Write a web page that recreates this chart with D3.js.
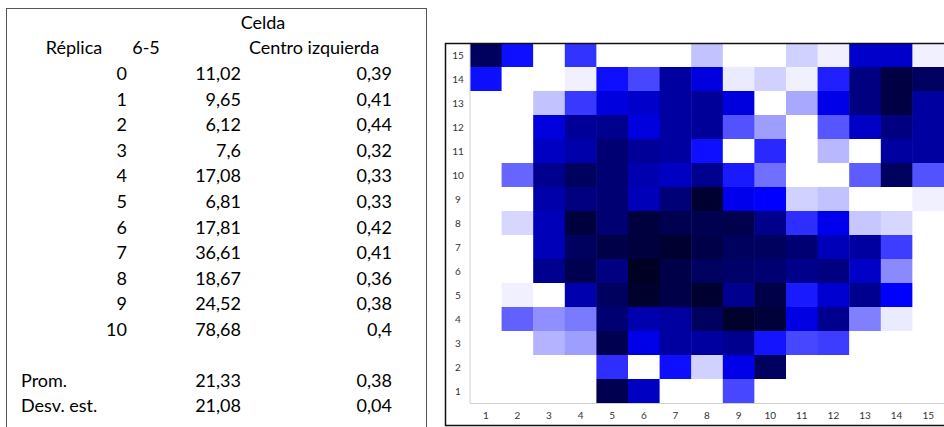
<!DOCTYPE html>
<html><head><meta charset="utf-8">
<script src="https://cdn.jsdelivr.net/npm/d3@7"></script>
<style>html,body{margin:0;padding:0;background:#fff;overflow:hidden}</style>
</head><body>
<svg id="c" width="944" height="427"></svg>
<script>
// ---- Table data ----
const replicas = [0,1,2,3,4,5,6,7,8,9,10];
const celda65 = [11.02, 9.65, 6.12, 7.6, 17.08, 6.81, 17.81, 36.61, 18.67, 24.52, 78.68];
const centroIzq = [0.39, 0.41, 0.44, 0.32, 0.33, 0.33, 0.42, 0.41, 0.36, 0.38, 0.4];
const statLabels = ["Prom.", "Desv. est."];
const stat65 = [21.33, 21.08];
const statCI = [0.38, 0.04];

// ---- Heatmap data (rows top→bottom = 15..1, columns 1..15) ----
const rowLabels = [15,14,13,12,11,10,9,8,7,6,5,4,3,2,1];
const colLabels = [1,2,3,4,5,6,7,8,9,10,11,12,13,14,15];
const grid = [
  [84, 47, 0, 40, 0, 0, 0, 12, 0, 0, 9, 3, 61, 61, 3],
  [47, 0, 0, 3, 47, 36, 70, 57, 4, 9, 3, 44, 77, 90, 84],
  [0, 0, 12, 39, 57, 61, 70, 72, 57, 0, 17, 55, 77, 90, 70],
  [0, 0, 57, 72, 74, 57, 70, 72, 34, 19, 0, 33, 62, 77, 70],
  [0, 0, 63, 68, 80, 72, 70, 47, 0, 42, 0, 14, 0, 70, 70],
  [0, 30, 74, 84, 80, 67, 63, 74, 45, 28, 0, 0, 32, 84, 34],
  [0, 0, 68, 77, 80, 65, 79, 94, 54, 50, 9, 12, 0, 0, 3],
  [0, 8, 65, 91, 80, 91, 87, 87, 88, 75, 41, 54, 11, 8, 0],
  [0, 0, 65, 84, 89, 91, 94, 89, 84, 84, 80, 65, 70, 38, 0],
  [0, 0, 74, 87, 77, 97, 89, 84, 82, 80, 75, 77, 62, 23, 0],
  [0, 3, 0, 67, 84, 95, 89, 94, 74, 89, 45, 60, 74, 50, 0],
  [0, 31, 22, 26, 80, 67, 70, 84, 95, 92, 56, 74, 25, 4, 0],
  [0, 0, 15, 19, 87, 55, 70, 70, 74, 46, 36, 38, 0, 0, 0],
  [0, 0, 0, 0, 41, 0, 47, 9, 55, 84, 0, 0, 0, 0, 0],
  [0, 0, 0, 0, 87, 63, 0, 0, 36, 0, 0, 0, 0, 0, 0]
];

const svg = d3.select("#c");
const fmt = v => String(v).replace(".", ",");
const tFont = "Lato, 'Open Sans', sans-serif";

// ---- Table ----
const tbl = svg.append("g").attr("font-family", tFont).attr("font-size", 18).attr("fill", "#000");
svg.append("rect").attr("x", 6.5).attr("y", 8.5).attr("width", 420).attr("height", 440)
  .attr("fill", "none").attr("stroke", "#555").attr("stroke-width", 1);

const rowY = d3.scaleLinear().domain([0, 1]).range([80, 105.6]);
tbl.append("text").attr("x", 263).attr("y", rowY(-2)).attr("text-anchor", "middle").text("Celda");
tbl.append("text").attr("x", 74).attr("y", rowY(-1)).attr("text-anchor", "middle").text("Réplica");
tbl.append("text").attr("x", 146).attr("y", rowY(-1)).attr("text-anchor", "middle").text("6-5");
tbl.append("text").attr("x", 314).attr("y", rowY(-1)).attr("text-anchor", "middle").text("Centro izquierda");

replicas.forEach((r, i) => {
  tbl.append("text").attr("x", 127).attr("y", rowY(i)).attr("text-anchor", "end").text(r);
  tbl.append("text").attr("x", 241).attr("y", rowY(i)).attr("text-anchor", "end").text(fmt(celda65[i]));
  tbl.append("text").attr("x", 392).attr("y", rowY(i)).attr("text-anchor", "end").text(fmt(centroIzq[i]));
});
statLabels.forEach((s, i) => {
  const y = 386.5 + i * 25.6;
  tbl.append("text").attr("x", 21).attr("y", y).attr("text-anchor", "start").text(s);
  tbl.append("text").attr("x", 241).attr("y", y).attr("text-anchor", "end").text(fmt(stat65[i]));
  tbl.append("text").attr("x", 392).attr("y", y).attr("text-anchor", "end").text(fmt(statCI[i]));
});

// ---- Heatmap ----
const x = d3.scaleBand().domain(colLabels).range([470, 944]).padding(0);
const y = d3.scaleBand().domain(rowLabels).range([43, 403]).padding(0);
const color = d3.scaleLinear().domain([0, 50, 100]).range(["#ffffff", "#0000ff", "#000014"]);

const hm = svg.append("g");
grid.forEach((row, ri) => {
  hm.selectAll(null).data(row).enter().append("rect")
    .attr("x", (d, ci) => x(colLabels[ci]))
    .attr("y", y(rowLabels[ri]))
    .attr("width", x.bandwidth() + 0.5)
    .attr("height", y.bandwidth() + 0.5)
    .attr("fill", d => color(d));
});

// axis lines
svg.append("line").attr("x1", 470).attr("x2", 470).attr("y1", 43).attr("y2", 403)
  .attr("stroke", "#d0d0d0").attr("stroke-width", 1);
svg.append("line").attr("x1", 470).attr("x2", 944).attr("y1", 403.5).attr("y2", 403.5)
  .attr("stroke", "#d0d0d0").attr("stroke-width", 1);

const lab = svg.append("g").attr("font-family", "Lato, 'Open Sans', sans-serif").attr("font-size", 10).attr("fill", "#333");
rowLabels.forEach(r => {
  lab.append("text").attr("x", 458).attr("y", y(r) + y.bandwidth() / 2 + 3.5)
    .attr("text-anchor", "middle").text(r);
});
colLabels.forEach(c => {
  lab.append("text").attr("x", x(c) + x.bandwidth() / 2).attr("y", 418.5)
    .attr("text-anchor", "middle").text(c);
});

// frame
svg.append("path").attr("d", "M944,43.5 L445.5,43.5 L445.5,425.5 L944,425.5")
  .attr("fill", "none").attr("stroke", "#111").attr("stroke-width", 1.5);
</script>
</body></html>
